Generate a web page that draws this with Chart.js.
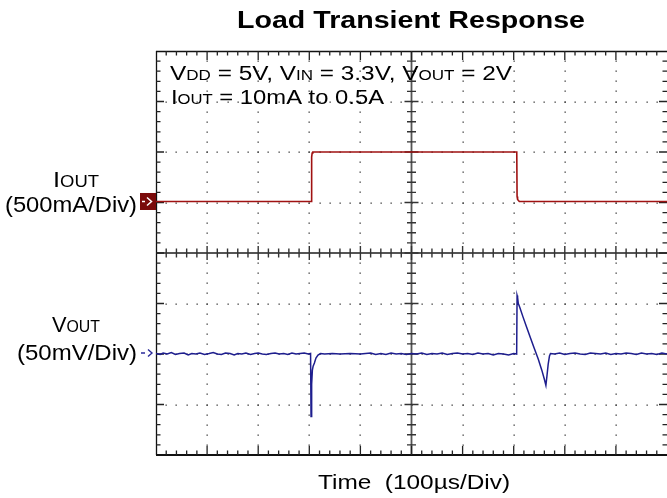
<!DOCTYPE html>
<html><head><meta charset="utf-8">
<script src="https://cdn.jsdelivr.net/npm/chart.js@4/dist/chart.umd.min.js"></script>
<style>html,body{margin:0;padding:0;background:#fff}#wrap{width:667px;height:498px}</style>
</head><body><div id="wrap"><canvas id="c" width="667" height="498"></canvas></div>
<script>
// ---------- data ----------
const TITLE = 'Load Transient Response';
const X_LABEL = 'Time  (100\u00B5s/Div)';
const LINE1 = [['V',0],['DD',1],[' = 5V, V',0],['IN',1],[' = 3.3V, V',0],['OUT',1],[' = 2V',0]];
const LINE2 = [['I',0],['OUT',1],[' = 10mA to 0.5A',0]];
const IOUT_LABEL = [['I',0],['OUT',1]];
const IOUT_SCALE_LABEL = '(500mA/Div)';
const VOUT_LABEL = [['V',0],['OUT',1]];
const VOUT_SCALE_LABEL = '(50mV/Div)';

// time in microseconds (100 us / div, 10 divisions)
const IOUT_TIME_US = [0, 304, 304.6, 305.6, 307, 706, 706.6, 707.6, 711, 1000];
const IOUT_A       = [0.01, 0.01, 0.45, 0.49, 0.5, 0.5, 0.06, 0.03, 0.01, 0.01];

const VOUT_TIME_US = [0, 8, 14, 22, 30, 38, 46, 55, 63, 70, 78, 86, 95, 104, 112, 120, 128, 136, 145, 153,
  160, 168, 176, 185, 193, 200, 208, 216, 225, 233, 241, 250, 258, 266, 274, 282, 290, 298, 302.5,
  303.4, 304.2, 305, 306, 307.5, 310, 313, 317, 322, 330, 345, 360, 380, 400, 420, 430, 440, 450,
  460, 470, 480, 490, 500, 510, 520, 530, 540, 550, 560, 570, 580, 590, 600, 610, 620, 630, 640,
  650, 660, 670, 680, 690, 700, 705.8,
  706.6, 707.6, 709, 712, 718, 725, 732, 740, 748, 755, 760, 763, 765, 767.5, 770, 772,
  780, 790, 800, 810, 820, 830, 840, 850, 860, 870, 880, 890, 900, 910, 920, 930, 940, 950, 960,
  970, 980, 990, 1000];
const VOUT_MV = [0.5, -0.5, 1, 0, 1.5, -0.5, 0.5, 1, -1, 0.5, 0, 1, -0.5, 0.5, 1.5, 0, -0.5, 1, 0.5, -1,
  0.5, 0, 1, -0.5, 0.5, 1, 0, -0.5, 0.5, 1, 0, 0.5, -0.5, 1, 0, 0.5, 1, 0, 0.5,
  -62, -45, -30, -16, -12, -9, -4, -1, 0.5, 0, 0.5, 0, 0.5, 0, 1, -0.5, 0.5, -0.5,
  1, 0, 0.5, -0.5, 0.5, 0, 1, -0.5, 0.5, 0, 1, -0.5, 0.5, 1, 0, 0.5, -0.5, 1, 0,
  0.5, -1, 0.5, 0, -1, 0.5, 0,
  58, 56, 50, 46, 37, 27, 17, 6, -5, -16, -25, -31, -22, -10, -2, 0.5,
  0, 1, -0.5, 0.5, 1, 0, -0.5, 1, 0.5, 0, 1, -0.5, 0.5, 0, 1, 0.5, -0.5, 1, 0,
  0.5, -0.5, 1, 0];

// ---------- helpers ----------
const FONT = '"Liberation Sans", Arial, Helvetica, sans-serif';
function drawRich(ctx, parts, x0, x1, baseline, size, bold, color) {
  const big = (bold ? 'bold ' : '') + size + 'px ' + FONT;
  const small = (bold ? 'bold ' : '') + Math.round(size * 0.72) + 'px ' + FONT;
  let w = 0;
  for (const p of parts) { ctx.font = p[1] ? small : big; w += ctx.measureText(p[0]).width; }
  const sx = (x1 - x0) / w;
  ctx.save();
  ctx.translate(x0, baseline); ctx.scale(sx, 1);
  ctx.fillStyle = color; ctx.textBaseline = 'alphabetic'; ctx.textAlign = 'left';
  let cx = 0;
  for (const p of parts) { ctx.font = p[1] ? small : big; ctx.fillText(p[0], cx, 0); cx += ctx.measureText(p[0]).width; }
  ctx.restore();
}

const scopeGrid = {
  id: 'scopeGrid',
  beforeDatasetsDraw(chart) {
    const ctx = chart.ctx, xs = chart.scales.x, d = chart.scales.yD;
    const {left, right, top, bottom} = chart.chartArea;
    ctx.save();
    // dotted grid
    ctx.fillStyle = '#3a3a3a';
    for (let m = 1; m < 10; m++) {
      if (m === 5) continue;
      const px = Math.round(xs.getPixelForValue(m * 100));
      for (let k = -19; k <= 19; k++) {
        const py = Math.round(d.getPixelForValue(k / 5));
        ctx.fillRect(px - 0.5, py - 0.5, 1.3, 1.3);
      }
    }
    for (let m = -3; m <= 3; m++) {
      if (m === 0) continue;
      const py = Math.round(d.getPixelForValue(m));
      for (let k = 1; k < 50; k++) {
        const px = Math.round(xs.getPixelForValue(k * 20));
        ctx.fillRect(px - 0.5, py - 0.5, 1.3, 1.3);
      }
    }
    // center cross
    const cxp = xs.getPixelForValue(500), cyp = d.getPixelForValue(0);
    ctx.strokeStyle = '#555'; ctx.lineWidth = 1.8;
    ctx.beginPath(); ctx.moveTo(cxp, top); ctx.lineTo(cxp, bottom); ctx.stroke();
    ctx.beginPath(); ctx.moveTo(left, cyp); ctx.lineTo(right, cyp); ctx.stroke();
    ctx.strokeStyle = '#333'; ctx.lineWidth = 1.4;
    ctx.beginPath();
    for (let k = -19; k <= 19; k++) {
      const py = d.getPixelForValue(k / 5); const L = (k % 5 === 0) ? 7 : 4.5;
      ctx.moveTo(cxp - L, py); ctx.lineTo(cxp + L, py);
    }
    for (let k = 1; k < 50; k++) {
      const px = xs.getPixelForValue(k * 20); const L = (k % 5 === 0) ? 7 : 4.5;
      ctx.moveTo(px, cyp - L); ctx.lineTo(px, cyp + L);
    }
    ctx.stroke();
    // border
    ctx.strokeStyle = '#111'; ctx.lineWidth = 1.3;
    ctx.beginPath();
    ctx.moveTo(left + 0.5, top); ctx.lineTo(left + 0.5, bottom);
    ctx.moveTo(left, top + 0.5); ctx.lineTo(right, top + 0.5);
    ctx.stroke();
    ctx.lineWidth = 2;
    ctx.beginPath(); ctx.moveTo(left, bottom); ctx.lineTo(right, bottom); ctx.stroke();
    ctx.lineWidth = 1.3; ctx.strokeStyle = '#222';
    ctx.beginPath();
    for (let k = 1; k < 50; k++) {
      const px = xs.getPixelForValue(k * 20); const L = (k % 5 === 0) ? 9 : 4.5;
      ctx.moveTo(px, top); ctx.lineTo(px, top + L);
      ctx.moveTo(px, bottom); ctx.lineTo(px, bottom - L);
    }
    for (let k = -19; k <= 19; k++) {
      const py = d.getPixelForValue(k / 5); const L = (k % 5 === 0) ? 8 : 4.5;
      ctx.moveTo(left, py); ctx.lineTo(left + L, py);
      ctx.moveTo(right, py); ctx.lineTo(right - L, py);
    }
    ctx.stroke();
    ctx.restore();
  },
  afterDraw(chart) {
    const ctx = chart.ctx;
    const yI = chart.scales.yI, yV = chart.scales.yV;
    ctx.save();
    drawRich(ctx, [[TITLE, 0]], 237, 585, 28, 23, true, '#000');
    drawRich(ctx, LINE1, 170, 512, 80, 20, false, '#000');
    drawRich(ctx, LINE2, 171, 384, 104, 20, false, '#000');
    drawRich(ctx, IOUT_LABEL, 53, 99, 187, 22, false, '#000');
    drawRich(ctx, [[IOUT_SCALE_LABEL, 0]], 5, 137, 212, 22, false, '#000');
    drawRich(ctx, VOUT_LABEL, 52, 100, 332, 22, false, '#000');
    drawRich(ctx, [[VOUT_SCALE_LABEL, 0]], 17, 137, 360, 22, false, '#000');
    drawRich(ctx, [[X_LABEL, 0]], 318, 510, 489, 20, false, '#000');
    // IOUT ground marker
    const ci = yI.getPixelForValue(0.01);
    ctx.fillStyle = '#7a0a0a';
    ctx.fillRect(140, ci - 8.5, 16, 17);
    ctx.strokeStyle = '#fff'; ctx.lineWidth = 1.5;
    ctx.beginPath();
    ctx.moveTo(142, ci); ctx.lineTo(145, ci);
    ctx.moveTo(147, ci - 4); ctx.lineTo(151.5, ci); ctx.lineTo(147, ci + 4);
    ctx.stroke();
    // VOUT ground marker
    const cv = yV.getPixelForValue(0) - 1;
    ctx.strokeStyle = '#2a2a9a'; ctx.lineWidth = 1.4;
    ctx.beginPath();
    ctx.moveTo(141, cv); ctx.lineTo(145, cv);
    ctx.moveTo(148, cv - 3.5); ctx.lineTo(152, cv); ctx.lineTo(148, cv + 3.5);
    ctx.stroke();
    ctx.restore();
  }
};

new Chart(document.getElementById('c').getContext('2d'), {
  type: 'line',
  data: {
    datasets: [
      { label: 'IOUT', data: IOUT_TIME_US.map((t, i) => ({x: t, y: IOUT_A[i]})), yAxisID: 'yI',
        borderColor: '#a01212', borderWidth: 1.6, pointRadius: 0, tension: 0, fill: false },
      { label: 'VOUT', data: VOUT_TIME_US.map((t, i) => ({x: t, y: VOUT_MV[i]})), yAxisID: 'yV',
        borderColor: '#1e1e8e', borderWidth: 1.5, pointRadius: 0, tension: 0, fill: false }
    ]
  },
  options: {
    responsive: false, animation: false, devicePixelRatio: 1,
    layout: { padding: { left: 156, top: 51, right: 0, bottom: 43 } },
    scales: {
      x:  { type: 'linear', min: 0, max: 1000, display: false },
      yI: { type: 'linear', min: -2.5, max: 1.5, display: false },
      yV: { type: 'linear', min: -100, max: 300, display: false },
      yD: { type: 'linear', min: -4, max: 4, display: false }
    },
    plugins: { legend: { display: false }, tooltip: { enabled: false }, title: { display: false } }
  },
  plugins: [scopeGrid]
});
</script>
</body></html>
